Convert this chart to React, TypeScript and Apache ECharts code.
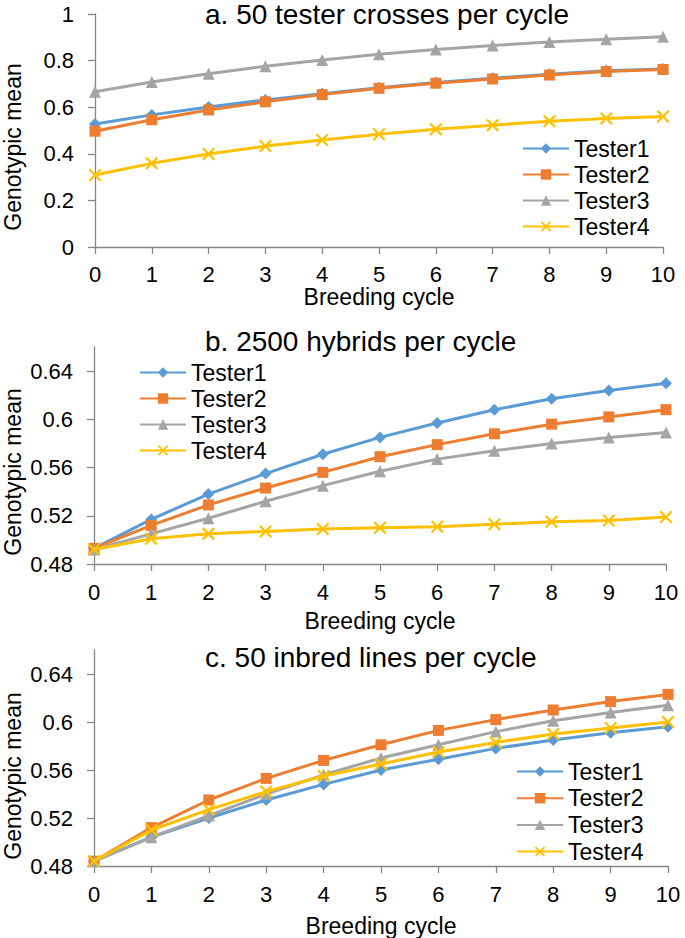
import React, { useEffect, useRef } from "react";
import * as echarts from "echarts";

const cycles = ["0", "1", "2", "3", "4", "5", "6", "7", "8", "9", "10"];
const testers = ["Tester1", "Tester2", "Tester3", "Tester4"];

const titles = [
  "a. 50 tester crosses per cycle",
  "b. 2500 hybrids per cycle",
  "c. 50 inbred lines per cycle",
];

const aT1 = [0.528, 0.567, 0.601, 0.631, 0.658, 0.683, 0.706, 0.724, 0.741, 0.756, 0.764];
const aT2 = [0.497, 0.546, 0.588, 0.623, 0.654, 0.681, 0.703, 0.721, 0.738, 0.753, 0.762];
const aT3 = [0.666, 0.708, 0.744, 0.776, 0.803, 0.827, 0.848, 0.865, 0.88, 0.892, 0.902];
const aT4 = [0.309, 0.359, 0.399, 0.433, 0.459, 0.484, 0.505, 0.523, 0.54, 0.552, 0.56];

const bT1 = [0.493, 0.517, 0.538, 0.555, 0.571, 0.585, 0.597, 0.608, 0.617, 0.624, 0.63];
const bT2 = [0.493, 0.512, 0.529, 0.543, 0.556, 0.569, 0.579, 0.588, 0.596, 0.602, 0.608];
const bT3 = [0.492, 0.505, 0.518, 0.532, 0.545, 0.557, 0.567, 0.574, 0.58, 0.585, 0.589];
const bT4 = [0.492, 0.501, 0.505, 0.507, 0.509, 0.51, 0.511, 0.513, 0.515, 0.516, 0.519];

const cT1 = [0.484, 0.504, 0.52, 0.535, 0.548, 0.56, 0.569, 0.578, 0.585, 0.591, 0.596];
const cT2 = [0.484, 0.512, 0.535, 0.553, 0.568, 0.581, 0.593, 0.602, 0.61, 0.617, 0.623];
const cT3 = [0.484, 0.504, 0.522, 0.54, 0.556, 0.57, 0.581, 0.592, 0.601, 0.608, 0.614];
const cT4 = [0.484, 0.51, 0.527, 0.542, 0.555, 0.565, 0.575, 0.583, 0.59, 0.595, 0.6];

const yTicksA = [0, 0.2, 0.4, 0.6, 0.8, 1];
const yTicksBC = [0.48, 0.52, 0.56, 0.6, 0.64];

const panelData = [
  [aT1, aT2, aT3, aT4],
  [bT1, bT2, bT3, bT4],
  [cT1, cT2, cT3, cT4],
];

const colors = ["#5B9BD5", "#ED7D31", "#A5A5A5", "#FFC000"];
const xShape =
  "path://M0,1.2L1.2,0L5,3.8L8.8,0L10,1.2L6.2,5L10,8.8L8.8,10L5,6.2L1.2,10L0,8.8L3.8,5Z";
const symbols = ["diamond", "rect", "triangle", xShape];
const symbolSizes = [12, 11, 12, 13];

const FONT = 'Arial, "Liberation Sans", Helvetica, sans-serif';

export default function App() {
  const ref = useRef<HTMLDivElement>(null);
  useEffect(() => {
    if (!ref.current) return;
    const chart = echarts.init(ref.current, null, { renderer: "svg" });

    const grids = [
      { left: 95, top: 14, width: 568, height: 233 },
      { left: 94, top: 347, width: 572, height: 217 },
      { left: 94, top: 650, width: 574, height: 216 },
    ];
    const titleTops = [0, 327, 643];
    const legendPos = [
      { left: 522, top: 137, itemGap: 3 },
      { left: 139, top: 361, itemGap: 3 },
      { left: 516, top: 760, itemGap: 3.7 },
    ];
    const xLabelMargins = [16, 17, 17];
    const xNameGaps = [31, 45, 48];
    const yNameCenters = [147, 472, 776];
    const yRanges = [
      { min: 0, max: 1, ticks: yTicksA },
      { min: 0.48, max: 0.66, ticks: yTicksBC },
      { min: 0.48, max: 0.66, ticks: yTicksBC },
    ];

    const axisLine = { show: true, lineStyle: { color: "#868686", width: 1.3 } };
    const axisTick = { show: true, length: 7, lineStyle: { color: "#868686", width: 1.3 } };

    const series: any[] = [];
    panelData.forEach((arrs, p) => {
      arrs.forEach((vals, i) => {
        series.push({
          name: testers[i],
          type: "line",
          xAxisIndex: p,
          yAxisIndex: p,
          data: vals,
          symbol: symbols[i],
          symbolSize: symbolSizes[i],
          showAllSymbol: true,
          lineStyle: { color: colors[i], width: 3 },
          itemStyle: { color: colors[i] },
          emphasis: { disabled: true },
          z: 2 + i,
        });
      });
    });

    const option: any = {
      animation: false,
      textStyle: { fontFamily: FONT },
      title: titles.map((t, p) => ({
        text: t,
        left: 205,
        top: titleTops[p],
        padding: 0,
        textStyle: { fontSize: 28, fontWeight: "normal", color: "#000", fontFamily: FONT },
      })),
      legend: legendPos.map((lp) => ({
        orient: "vertical",
        left: lp.left,
        top: lp.top,
        padding: 0,
        itemGap: lp.itemGap,
        itemWidth: 46,
        itemHeight: 13,
        data: testers,
        selectedMode: false,
        textStyle: { fontSize: 23, color: "#000", fontFamily: FONT },
      })),
      grid: grids,
      xAxis: grids.map((_, p) => ({
        type: "category",
        gridIndex: p,
        data: cycles,
        boundaryGap: false,
        name: "Breeding cycle",
        nameLocation: "middle",
        nameGap: xNameGaps[p],
        nameTextStyle: { fontSize: 23, color: "#000", fontFamily: FONT },
        axisLine,
        axisTick: { ...axisTick, alignWithLabel: true },
        axisLabel: { fontSize: 22, color: "#000", margin: xLabelMargins[p], fontFamily: FONT },
        splitLine: { show: false },
      })),
      yAxis: yRanges.map((r, p) => ({
        type: "value",
        gridIndex: p,
        min: r.min,
        max: r.max,
        axisLine,
        axisTick: { ...axisTick, customValues: r.ticks },
        axisLabel: {
          fontSize: 22,
          color: "#000",
          margin: 21,
          fontFamily: FONT,
          customValues: r.ticks,
        },
        splitLine: { show: false },
      })),
      graphic: yNameCenters.map((cy) => ({
        type: "text",
        x: 13,
        y: cy,
        rotation: Math.PI / 2,
        style: {
          text: "Genotypic mean",
          fontSize: 23,
          fontFamily: FONT,
          fill: "#000",
          align: "center",
          verticalAlign: "middle",
        },
      })),
      series,
    };

    chart.setOption(option);
    return () => chart.dispose();
  }, []);

  return (
    <div
      ref={ref}
      style={{ position: "absolute", left: 0, top: 0, width: 685, height: 938, background: "#fff" }}
    />
  );
}
